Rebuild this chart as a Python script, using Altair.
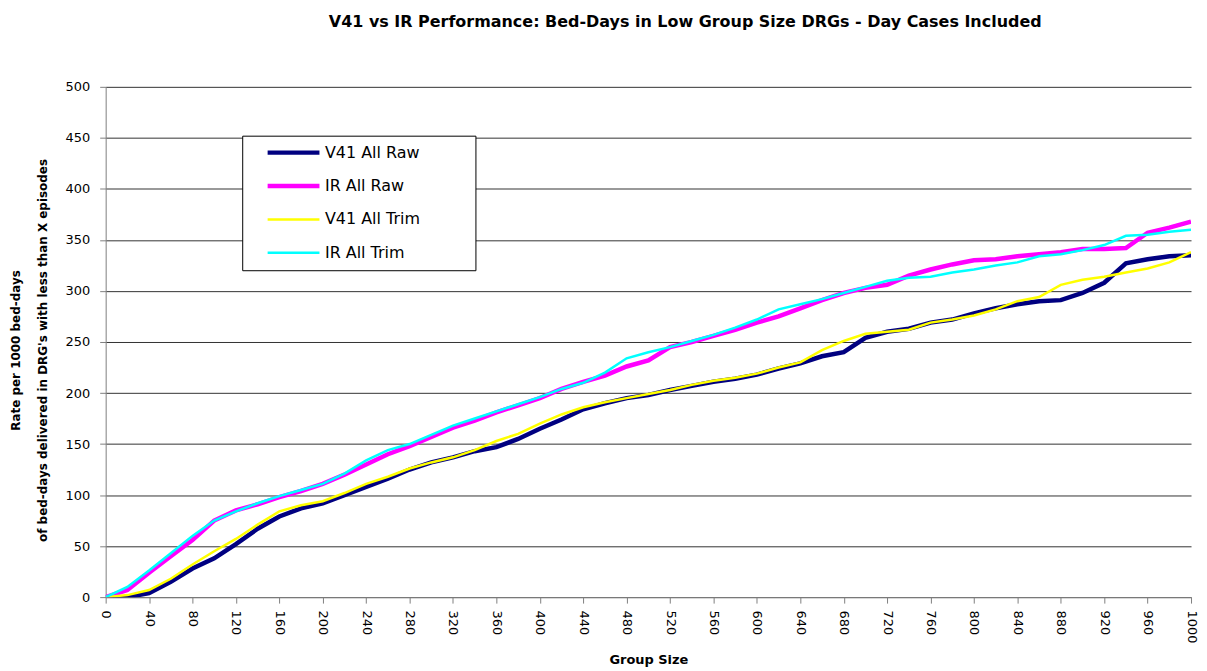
import altair as alt
import pandas as pd

# Group size (x) grid
group_size = list(range(0, 1001, 20))

series_names = ["V41 All Raw", "IR All Raw", "V41 All Trim", "IR All Trim"]
series_colors = ["#000080", "#FF00FF", "#FFFF00", "#00FFFF"]
series_widths = [4.5, 4.5, 2.5, 2.5]

v41_all_raw = [0, 0, 4, 15, 28, 38, 52, 67, 79, 87, 92, 100, 108, 116, 125, 132, 137, 143, 147, 155,
               165, 174, 184, 190, 195, 198, 203, 207, 211, 214, 218, 224, 229, 236, 240, 254, 260, 263, 269, 272,
               278, 283, 287, 290, 291, 298, 308, 327, 331, 334, 335]
ir_all_raw = [0, 7, 24, 40, 56, 75, 85, 91, 98, 104, 111, 120, 130, 140, 148, 157, 166, 173, 181, 188,
              195, 204, 211, 217, 226, 232, 245, 250, 256, 262, 269, 275, 283, 291, 298, 303, 306, 315, 321, 326,
              330, 331, 334, 336, 338, 341, 341, 342, 357, 362, 368]
v41_all_trim = [0, 2, 7, 18, 32, 45, 57, 71, 84, 90, 94, 102, 111, 118, 126, 132, 137, 144, 153, 160,
                170, 179, 186, 191, 195, 199, 203, 208, 212, 215, 219, 225, 230, 242, 251, 258, 260, 262, 269, 272,
                276, 282, 290, 294, 306, 311, 314, 318, 322, 328, 338]
ir_all_trim = [0, 10, 26, 43, 60, 75, 84, 92, 99, 105, 111, 121, 134, 144, 150, 159, 168, 175, 182, 189,
               196, 204, 210, 220, 234, 240, 245, 251, 257, 264, 272, 282, 287, 292, 298, 304, 310, 313, 314, 318,
               321, 325, 328, 334, 336, 340, 345, 354, 355, 358, 360]

x_ticks = list(range(0, 1001, 40))
y_ticks = list(range(0, 501, 50))

rows = []
for name, vals in zip(series_names, [v41_all_raw, ir_all_raw, v41_all_trim, ir_all_trim]):
    for gx, gy in zip(group_size, vals):
        rows.append({"series": name, "x": gx, "y": gy})
df = pd.DataFrame(rows)

FONT = "DejaVu Sans"
PAD = "\u2800" * 4  # blank filler so the legend box keeps its original width

legend_props = dict(
    title=None,
    orient="none",
    legendX=137,
    legendY=49,
    fillColor="white",
    strokeColor="black",
    padding=8,
    symbolType="stroke",
    symbolSize=2704,
    symbolOffset=15,
    labelOffset=3,
    labelFontSize=16,
    labelFont=FONT,
    labelColor="black",
    clipHeight=18,
    rowPadding=15.5,
    labelExpr="datum.label + '" + PAD + "'",
)

chart = alt.Chart(df).mark_line(clip=True).encode(
    x=alt.X("x:Q",
            scale=alt.Scale(domain=[0, 1000], nice=False, zero=False),
            axis=alt.Axis(values=x_ticks, title="Group Size", grid=False, format="d",
                          labelAngle=90, labelFontSize=13, labelFont=FONT, labelColor="black",
                          labelPadding=7, tickSize=6, tickColor="#808080",
                          domainColor="#808080", labelOverlap=False,
                          titleFont=FONT, titleFontSize=13, titleFontWeight="bold",
                          titleColor="black", titleY=70, titleBaseline="bottom")),
    y=alt.Y("y:Q",
            scale=alt.Scale(domain=[0, 500], nice=False),
            axis=alt.Axis(values=y_ticks,
                          title=["Rate per 1000 bed-days",
                                 "of bed-days delivered in DRG's with less than X episodes"],
                          grid=True, gridColor="#333333", gridWidth=1,
                          labelFontSize=13, labelFont=FONT, labelColor="black",
                          labelPadding=10, tickSize=6, tickColor="#808080",
                          domainColor="#808080",
                          titleFont=FONT, titleFontSize=12, titleFontWeight="bold",
                          titleColor="black", titleX=-83, titleY=264, titleAngle=-90,
                          titleAlign="center", titleBaseline="bottom", titleLineHeight=27)),
    color=alt.Color("series:N",
                    scale=alt.Scale(domain=series_names, range=series_colors),
                    legend=alt.Legend(**legend_props)),
    strokeWidth=alt.StrokeWidth("series:N",
                                scale=alt.Scale(type="ordinal", domain=series_names, range=series_widths),
                                legend=alt.Legend(**legend_props)),
).properties(
    width=1089,
    height=512,
    autosize=alt.AutoSizeParams(type="none"),
    padding={"left": 98, "top": 78, "right": 8, "bottom": 70},
    title=alt.TitleParams(
        "V41 vs IR Performance: Bed-Days in Low Group Size DRGs - Day Cases Included",
        font=FONT, fontSize=16, fontWeight="bold", color="black",
        anchor="middle", dx=37, offset=51),
).configure_view(strokeWidth=0)

chart.save("out.html", embed_options={"renderer": "svg", "actions": False})
